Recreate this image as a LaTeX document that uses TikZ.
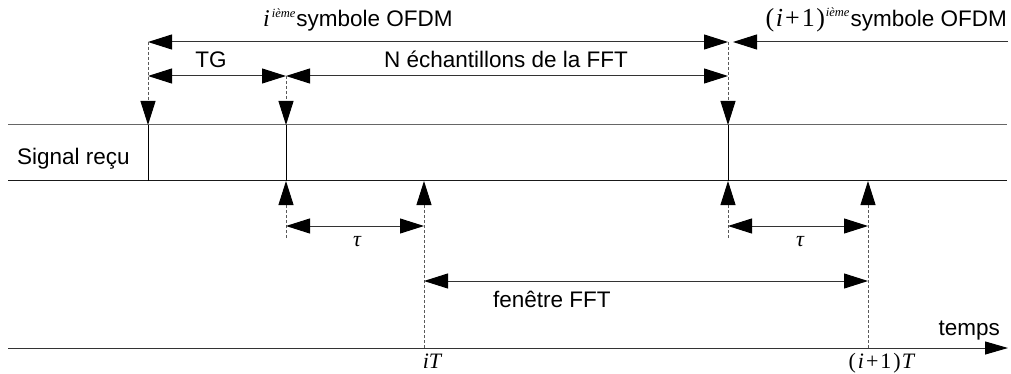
\documentclass[tikz,border=0pt]{standalone}
\usepackage{fontspec}
\setmainfont{Liberation Sans}
\newfontfamily\tms{Liberation Serif}
\usetikzlibrary{arrows.meta}
\tikzset{
  tipA/.tip={Triangle[length=24pt,width=15pt,color=black]},
  ln/.style={line width=1pt,draw=black!80},
  dbl/.style={ln,tipA-tipA},
  onearrow/.style={ln,-tipA},
  dsh/.style={line width=0.9pt,draw=black!65,dash pattern=on 3pt off 2pt},
  lbl/.style={inner sep=0pt,font=\fontsize{22.5}{24}\selectfont},
  mth/.style={inner sep=0pt,font=\tms\fontsize{22}{24}\selectfont},
}
\begin{document}
\begin{tikzpicture}[x=1pt,y=-1pt]
\useasboundingbox (0,0) rectangle (1011,374);
% key coordinates
\coordinate (A1) at (148,42);
\coordinate (A2) at (728,42);
\coordinate (A3) at (733,42);
\coordinate (A4) at (1008,42);
\coordinate (B1) at (148,76);
\coordinate (B2) at (286,76);
\coordinate (B3) at (728,76);
\coordinate (S1) at (148,125);
\coordinate (S2) at (286,125);
\coordinate (S3) at (728,125);
\coordinate (R1) at (148,181);
\coordinate (R2) at (286,181);
\coordinate (R3) at (728,181);
\coordinate (R4) at (424,181);
\coordinate (R5) at (868,181);
\coordinate (L0) at (8,125);
\coordinate (L1) at (1007,125);
\coordinate (M0) at (8,181);
\coordinate (M1) at (1007,181);
\coordinate (D2) at (286,238);
\coordinate (D3) at (728,238);
\coordinate (T2) at (286,226);
\coordinate (T4) at (424,226);
\coordinate (T3) at (728,226);
\coordinate (T5) at (868,226);
\coordinate (F4) at (424,281);
\coordinate (F5) at (868,281);
\coordinate (X4) at (424,348);
\coordinate (X5) at (868,348);
\coordinate (X0) at (8,348);
\coordinate (X1) at (1008,348);

% signal lines
\draw[ln,draw=black!60] (L0) -- (L1);
\draw[ln,draw=black!90] (M0) -- (M1);
\draw[line width=1pt] (S1) -- (R1);
\draw[line width=1pt] (S2) -- (R2);
\draw[line width=1pt] (S3) -- (R3);

% top arrows
\draw[dbl] (A1) -- (A2);
\draw[onearrow] (A4) -- (A3);
\draw[dbl] (B1) -- (B2);
\draw[dbl] (B2) -- (B3);

% dashed down arrows
\draw[dsh,-tipA] (A1) -- (S1);
\draw[dsh,-tipA] (B2) -- (S2);
\draw[dsh,-tipA] (A2) -- (S3);

% dashed up arrows
\draw[dsh,-tipA] (D2) -- (R2);
\draw[dsh,-tipA] (X4) -- (R4);
\draw[dsh,-tipA] (D3) -- (R3);
\draw[dsh,-tipA] (X5) -- (R5);

% tau arrows and window
\draw[dbl] (T2) -- (T4);
\draw[dbl] (T3) -- (T5);
\draw[dbl] (F4) -- (F5);

% time axis
\draw[ln,-{Triangle[length=23pt,width=13pt,color=black]}] (X0) -- (X1);

% labels
\node[lbl,anchor=base west] (title1) at (263,27) {{\tms\itshape\fontsize{24}{24}\selectfont i}\hspace{2pt}\raisebox{9pt}{\tms\itshape\fontsize{12.5}{12}\selectfont ième}\hspace{1pt}symbole OFDM};
\node[lbl,anchor=base east] (title2) at (1007,27) {{\tms\fontsize{26}{26}\selectfont(\hspace{1.5pt}\textit{i}\hspace{2pt}+\hspace{2pt}1\hspace{1.5pt})}\hspace{1pt}\raisebox{10pt}{\tms\itshape\fontsize{12.5}{12}\selectfont ième}\hspace{1pt}symbole OFDM};
\node[lbl,anchor=base] (tg) at (211,67.5) {TG};
\node[lbl,anchor=base] (nfft) at (506,67.5) {N échantillons de la FFT};
\node[lbl,anchor=base west] (sig) at (17,165) {Signal reçu};
\node[mth,anchor=base] (tau1) at (357,246) {\itshape τ};
\node[mth,anchor=base] (tau2) at (800,246) {\itshape τ};
\node[lbl,anchor=base west] (fen) at (493,307) {fenêtre FFT};
\node[lbl,anchor=base east] (temps) at (1000,335) {temps};
\node[mth,anchor=base] (iT) at (432,368) {\itshape iT};
\node[mth,anchor=base] (i1T) at (882,368) {(\hspace{2pt}\textit{i}\hspace{2pt}+\hspace{2pt}1\hspace{2pt})\hspace{1pt}\textit{T}};
\end{tikzpicture}
\end{document}
